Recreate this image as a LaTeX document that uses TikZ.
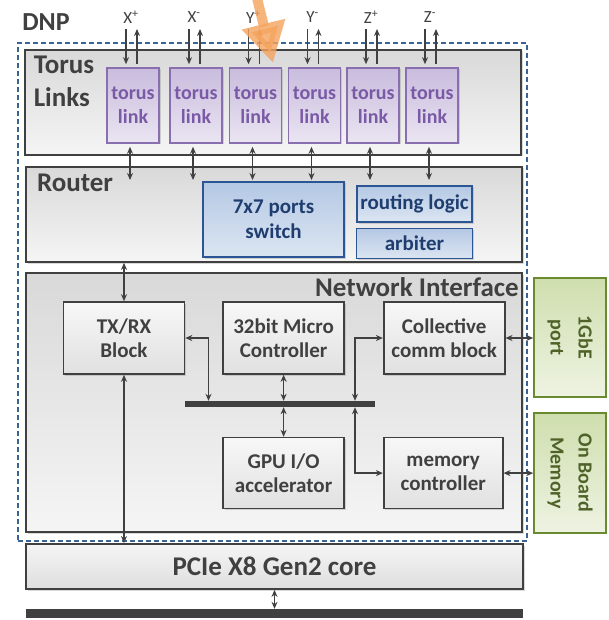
\documentclass[tikz,border=0pt]{standalone}
\usepackage{fontspec}
\setmainfont{Carlito}
\usetikzlibrary{arrows.meta,shadows,positioning}
\definecolor{dkgray}{HTML}{404040}
\definecolor{dashblue}{HTML}{3A6496}
\definecolor{purpbd}{HTML}{8A6FB0}
\definecolor{purptx}{HTML}{7A5AA6}
\definecolor{purplo}{HTML}{C9BCDD}
\definecolor{purphi}{HTML}{EAE5F2}
\definecolor{bluebd}{HTML}{2C5593}
\definecolor{bluetx}{HTML}{1F3D6E}
\definecolor{bluelo}{HTML}{B4C8E4}
\definecolor{bluehi}{HTML}{DCE6F2}
\definecolor{greenbd}{HTML}{6A8A30}
\definecolor{greentx}{HTML}{4F6228}
\definecolor{greenlo}{HTML}{CFDEAE}
\definecolor{greenhi}{HTML}{EEF3E2}
\definecolor{orangearr}{HTML}{F5A35E}
\tikzset{
  shd/.style={drop shadow={opacity=0.3,shadow xshift=1.5pt,shadow yshift=-1.5pt}},
  frame/.style={draw=dashblue, line width=1.4pt, dash pattern=on 5pt off 3pt, inner sep=0pt},
  layer/.style={draw=dkgray, line width=1.8pt, top color=gray!30, bottom color=gray!8, inner sep=0pt, shd},
  title/.style={text=dkgray, font=\fontsize{27}{33}\selectfont\bfseries, inner sep=0pt},
  dirlab/.style={text=dkgray, font=\fontsize{17}{20}\selectfont, inner sep=0pt},
  link/.style={draw=purpbd, line width=1.6pt, top color=purplo, bottom color=purphi, text=purptx,
    font=\fontsize{20}{24}\selectfont\bfseries, align=center, minimum width=52pt, minimum height=75pt, inner sep=0pt, shd},
  blk/.style={draw=dkgray, line width=1.6pt, top color=gray!6, bottom color=gray!24, text=dkgray,
    font=\fontsize{21}{24}\selectfont\bfseries, align=center, minimum width=121pt, minimum height=72pt, inner sep=0pt, shd},
  swbox/.style={draw=bluebd, line width=1.6pt, top color=bluelo, bottom color=bluehi, text=bluetx,
    font=\fontsize{21}{25}\selectfont\bfseries, align=center, inner sep=0pt, shd},
  portbox/.style={draw=greenbd, line width=1.6pt, top color=greenlo, bottom color=greenhi, text=greentx,
    font=\fontsize{20}{28}\selectfont\bfseries, align=center, rotate=-90, minimum height=72pt, inner sep=0pt},
  busbar/.style={fill=dkgray, inner sep=0pt},
  uniarr/.style={draw=dkgray, line width=1.4pt, -{Stealth[length=7pt,width=6pt]}},
  biarr/.style={draw=dkgray, line width=1.4pt, {Stealth[length=7pt,width=6pt]}-{Stealth[length=7pt,width=6pt]}},
  hint/.style={draw=orangearr, opacity=0.8, line width=10pt, -{Triangle[length=40pt,width=42pt]}}
}
\begin{document}
\begin{tikzpicture}[x=1pt,y=-1pt]
    \useasboundingbox (0,0) rectangle (608,620);
    \node (dnp) [title, font=\fontsize{26}{30}\selectfont\bfseries] at (46,22) {DNP};
    \node (dnpframe) [frame, minimum width=509pt, minimum height=498pt] at (272.5,292) {};

    \node (tl) [layer, minimum width=496pt, minimum height=105pt] at (273,102.5) {};
    \node (rt) [layer, minimum width=496pt, minimum height=95pt] at (274,214.5) {};
    \node (ni) [layer, minimum width=496pt, minimum height=259pt] at (274,402.5) {};
    \node (pcie) [layer, top color=gray!8, bottom color=gray!26, minimum width=497pt, minimum height=45pt,
      title] at (274.5,566.5) {PCIe X8 Gen2 core};
    \node (bar) [busbar, minimum width=497pt, minimum height=9pt] at (274.5,613.5) {};

    \node (tltitle) [title, align=left] at (64,81) {Torus\\Links};
    \node (rttitle) [title] at (75,183) {Router};
    \node (nititle) [title, anchor=east] at (519,287) {Network Interface};

    \coordinate (rtin) at (0,180);
    \foreach \cx/\lab [count=\i] in {133/{X\textsuperscript{+}}, 196/{X\textsuperscript{-}}, 255.5/{Y\textsuperscript{+}},
        314.5/{Y\textsuperscript{-}}, 373/{Z\textsuperscript{+}}, 432/{Z\textsuperscript{-}}} {
      \node (l\i) [link] at (\cx,105.5) {torus\\link};
      \node (d\i) [dirlab] at (\cx-2,17) {\lab};
      \coordinate (t\i) at (\cx,29);
      \draw[uniarr, shorten >=3pt] ([xshift=-7pt]t\i) -- ([xshift=-7pt]l\i.north);
      \draw[uniarr, shorten <=3pt] ([xshift=4pt]l\i.north) -- ([xshift=4pt]t\i);
      \draw[biarr, shorten <=3pt] ([xshift=-3pt]l\i.south) -- ([xshift=-3pt]l\i.south |- rtin);
    }

    \node (sw) [swbox, minimum width=141pt, minimum height=75pt] at (273.5,219.5) {7x7 ports\\switch};
    \node (rl) [swbox, minimum width=115pt, minimum height=36pt] at (414.5,204) {routing logic};
    \node (arb) [swbox, minimum width=116pt, minimum height=30pt, below=5pt of rl] {arbiter};

    \node (tx) [blk] at (124,338) {TX/RX\\Block};
    \node (mc) [blk, right=37pt of tx] {32bit Micro\\Controller};
    \node (cc) [blk, right=38pt of mc] {Collective\\comm block};
    \node (bus) [busbar, minimum width=190pt, minimum height=6pt] at (280,404) {};
    \node (gpu) [blk, minimum height=71pt, below=62pt of mc] {GPU I/O\\accelerator};
    \node (mem) [blk, minimum width=119pt, minimum height=71pt, right=38pt of gpu] {memory\\controller};

    \node (gbe) [portbox, minimum width=119pt] at (570,337.5) {1GbE\\port};
    \node (obm) [portbox, minimum width=120pt] at (570,473) {On Board\\Memory};

    \coordinate (busl) at (208.5,0);
    \coordinate (busr) at (355,0);
    \draw[biarr] (rt.south -| tx.north) -- (tx.north);
    \draw[biarr] (tx.east) -| (busl |- bus.north);
    \draw[biarr] (mc.south) -- (mc.south |- bus.north);
    \draw[biarr] (busr |- bus.north) |- (cc.west);
    \draw[biarr] (gpu.north) -- (gpu.north |- bus.south);
    \draw[biarr] (busr |- bus.south) |- (mem.west);
    \draw[biarr] (cc.east) -- (cc.east -| gbe.south);
    \draw[biarr] (mem.east) -- (mem.east -| obm.south);
    \draw[biarr] (tx.south) -- (tx.south |- pcie.north);
    \draw[biarr] (pcie.south) -- (pcie.south |- bar.north);

    \coordinate (oa) at (256,-6);
    \coordinate (ob) at (273,63);
    \draw[hint] (oa) -- (ob);
\end{tikzpicture}
\end{document}
